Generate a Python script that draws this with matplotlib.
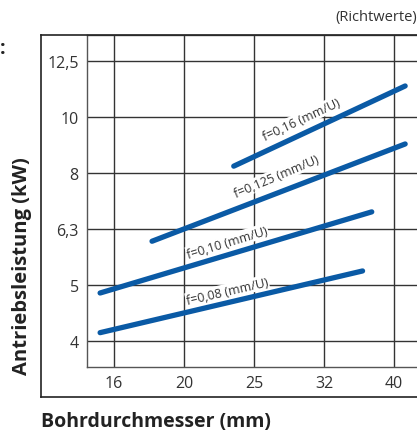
import numpy as np
import matplotlib
matplotlib.use("Agg")
import matplotlib.pyplot as plt
from matplotlib.lines import Line2D

plt.rcParams['font.family'] = ['Open Sans', 'DejaVu Sans']

# Bohrdurchmesser (mm) / Antriebsleistung (kW), je Vorschub f
feeds = ["0,16", "0,125", "0,10", "0,08"]
x_start = [23.5, 17.96, 15.14, 15.14]
x_end = [41.3, 41.3, 37.0, 35.9]
p_start = [8.17, 6.00, 4.85, 4.12]
p_end = [11.36, 8.95, 6.77, 5.31]

# Beschriftungen (Position in Datenkoordinaten, Winkel)
label_x = [29.4, 27.1, 23.0, 23.0]
label_y = [9.92, 7.85, 5.98, 4.89]
label_rot = [25, 23, 17, 13]

# R10-Normzahlen
x_ticklabels = ["16", "20", "25", "32", "40"]
y_ticklabels = ["4", "5", "6,3", "8", "10", "12,5"]
x_ticks = 10 ** (np.arange(12, 17) / 10)
y_ticks = 10 ** (np.arange(6, 12) / 10)

blue = "#0a5aa5"
W, H = 417, 435

fig = plt.figure(figsize=(W / 100, H / 100), dpi=100)
ax = fig.add_axes([87 / W, 67 / H, (425 - 87) / W, (368 - 36) / H])
ax.set_xscale("log")
ax.set_yscale("log")
ax.set_xlim(10 ** 1.1614, 10 ** 1.6443)
ax.set_ylim(10 ** 0.5536, 10 ** 1.1464)

ax.set_xticks(x_ticks)
ax.set_xticklabels(x_ticklabels)
ax.set_yticks(y_ticks)
ax.set_yticklabels(y_ticklabels)
ax.minorticks_off()
ax.tick_params(length=0, labelsize=11.5, labelcolor="#333333", pad=6)
ax.grid(True, color="#333333", linewidth=1.0)
ax.set_axisbelow(True)
for s in ax.spines.values():
    s.set_color("#555555")
    s.set_linewidth(1.0)

for i in range(len(feeds)):
    ax.plot([x_start[i], x_end[i]], [p_start[i], p_end[i]], color=blue,
            linewidth=3.8, solid_capstyle="round", zorder=3)
    ax.text(label_x[i], label_y[i], "f=%s (mm/U)" % feeds[i], rotation=label_rot[i],
            rotation_mode="anchor", ha="center", va="center", fontsize=9,
            color="#333333", zorder=2,
            bbox=dict(facecolor="white", edgecolor="none", pad=0.5))

# aeusserer Rahmen
x0, x1 = 41 / W, 1.0
y_top, y_bot = 1 - 36 / H, 1 - 398 / H
for xs, ys in [([x0, x0], [y_bot, y_top]), ([x0, x1], [y_top, y_top]), ([x0, x1], [y_bot, y_bot])]:
    fig.add_artist(Line2D(xs, ys, color="#222222", linewidth=1.2, transform=fig.transFigure))

fig.text(41 / W, 1 - 422 / H, "Bohrdurchmesser (mm)", fontsize=14, fontweight="bold",
         color="#222222", ha="left", va="center")
fig.text(22 / W, 1 - 266 / H, "Antriebsleistung (kW)", fontsize=14.5, fontweight="bold",
         color="#222222", ha="center", va="center", rotation=90)
fig.text(1.0, 1 - 17 / H, "(Richtwerte)", fontsize=10.5, color="#333333", ha="right", va="center")
fig.text(0.0, 1 - 49 / H, ":", fontsize=14, fontweight="bold", color="#222222", ha="left", va="center")

fig.savefig("out.png", dpi=100)
